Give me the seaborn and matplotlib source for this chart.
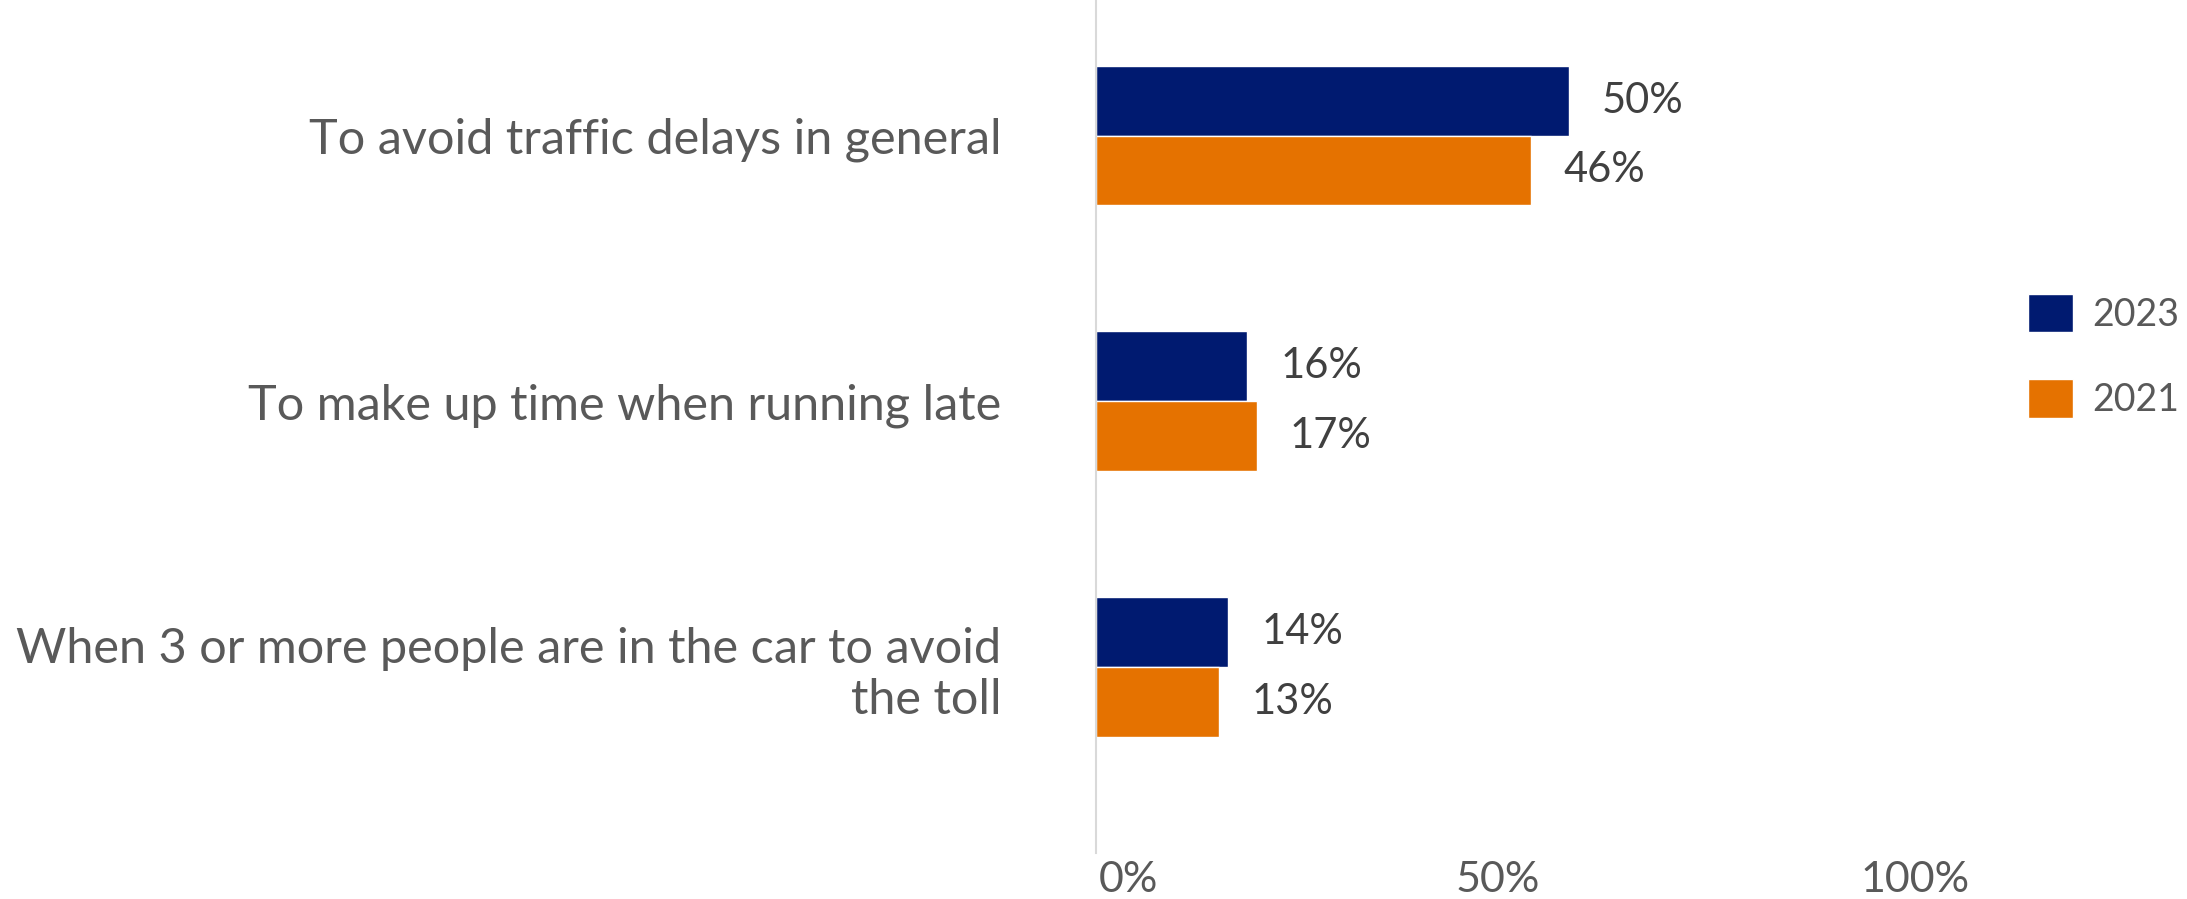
import matplotlib
matplotlib.use('Agg')
import matplotlib.pyplot as plt
import seaborn as sns
import pandas as pd

categories = ["To avoid traffic delays in general",
              "To make up time when running late",
              "When 3 or more people are in the car to avoid\nthe toll"]
years = ["2023", "2021"]
values_2023 = [50, 16, 14]
values_2021 = [46, 17, 13]
tick_labels = ["0%", "50%", "100%"]

df = pd.DataFrame({
    "reason": categories * 2,
    "year": [years[0]] * 3 + [years[1]] * 3,
    "pct": values_2023 + values_2021,
})

sns.set_theme(style="white")
plt.rcParams['font.family'] = ['Lato', 'DejaVu Sans']

W, H = 2187, 899
fig = plt.figure(figsize=(W / 100, H / 100), dpi=100)
ax = fig.add_axes([1096 / W, 46 / H, 1000 / W, 853 / H])

sns.barplot(data=df, y="reason", x="pct", hue="year", hue_order=years,
            palette={"2023": "#001A70", "2021": "#E57200"}, orient="h",
            width=0.526, gap=0, ax=ax, errorbar=None, saturation=1)

ax.set_xlim(0, 105.8)
ax.set_ylim(2.70, -0.51)
ax.set_xlabel("")
ax.set_ylabel("")

for s in ["top", "right", "bottom"]:
    ax.spines[s].set_visible(False)
ax.spines["left"].set_color("#d9d9d9")
ax.spines["left"].set_linewidth(1.5)

ax.tick_params(axis='y', length=0, pad=68, labelsize=35, labelcolor='#595959')
for lbl in ax.get_yticklabels():
    lbl.set_linespacing(1.2)
ax.set_xticks([3.4, 42.5, 86.7])
ax.set_xticklabels(tick_labels)
ax.tick_params(axis='x', length=0, pad=6, labelsize=31, labelcolor='#595959')

for cont in ax.containers:
    ax.bar_label(cont, fmt='%d%%', padding=23.8, fontsize=30, color='#404040')

leg_fs = 27
sq = 45 / (leg_fs * 100 / 72)
handles, labels = ax.get_legend_handles_labels()
leg = ax.legend(handles, labels, loc='center left',
                bbox_to_anchor=(2028 / W, 1 - 356 / H), bbox_transform=fig.transFigure,
                frameon=False, fontsize=leg_fs, handlelength=sq, handleheight=sq,
                handletextpad=0.5, labelspacing=1.25, borderpad=0, borderaxespad=0)
for t in leg.get_texts():
    t.set_color('#595959')

fig.savefig("out.png", dpi=100)
